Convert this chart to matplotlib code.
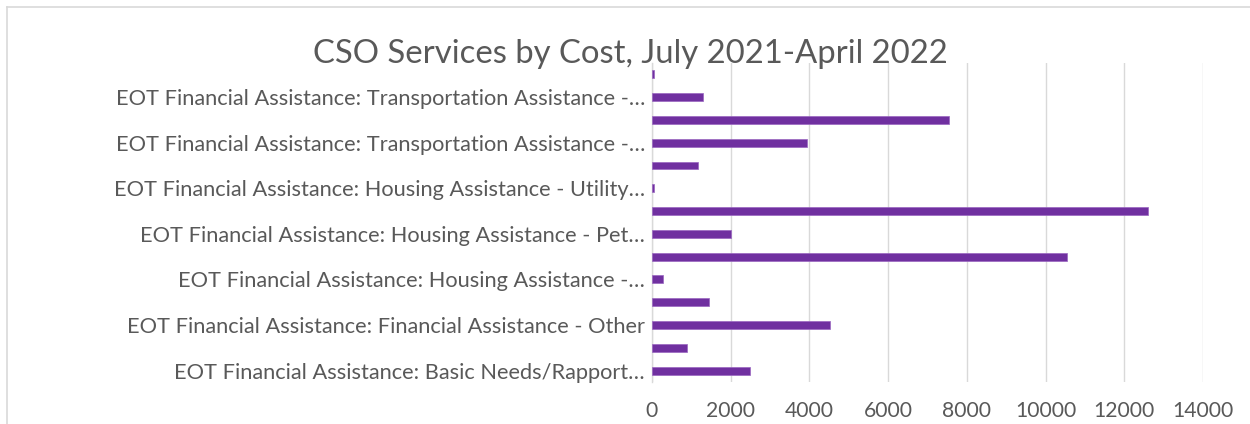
import matplotlib
matplotlib.use("Agg")
import matplotlib.pyplot as plt
from matplotlib.lines import Line2D

plt.rcParams['font.family'] = ['Lato', 'DejaVu Sans']

# data, bottom bar first (Excel only labels every other category)
categories = [
    "EOT Financial Assistance: Basic Needs/Rapport…",
    "",
    "EOT Financial Assistance: Financial Assistance - Other",
    "",
    "EOT Financial Assistance: Housing Assistance -…",
    "",
    "EOT Financial Assistance: Housing Assistance - Pet…",
    "",
    "EOT Financial Assistance: Housing Assistance - Utility…",
    "",
    "EOT Financial Assistance: Transportation Assistance -…",
    "",
    "EOT Financial Assistance: Transportation Assistance -…",
    "",
]
costs = [2480, 900, 4530, 1440, 290, 10550, 2000, 12600, 40, 1180, 3950, 7550, 1300, 40]
x_ticks = [0, 2000, 4000, 6000, 8000, 10000, 12000, 14000]

text_col = '#595959'
grid_col = '#D9D9D9'

fig = plt.figure(figsize=(12.5, 4.24), dpi=100)
ax = fig.add_axes([0.5216, 0.0991, 0.4408, 0.7524])

pos = list(range(len(categories)))
ax.barh(pos, costs, height=0.35, color='#7030A0', edgecolor='#9966C0', linewidth=0.5, zorder=3)

ax.set_xlim(0, 14000)
ax.set_ylim(-0.5, len(categories) - 0.5)
ax.set_xticks(x_ticks)
ax.set_xticklabels([str(t) for t in x_ticks])
ax.set_yticks(pos)
ax.set_yticklabels(categories)
ax.tick_params(axis='both', length=0, colors=text_col)
ax.tick_params(axis='y', pad=5, labelsize=15.7)
ax.tick_params(axis='x', pad=14, labelsize=15.2)

ax.grid(axis='x', color=grid_col, linewidth=1, zorder=0)
ax.set_axisbelow(True)
for s in ['top', 'right', 'bottom']:
    ax.spines[s].set_visible(False)
ax.spines['left'].set_color(grid_col)
ax.spines['left'].set_linewidth(1)

# title
fig.text(630 / 1250, 1 - 63.3 / 424, "CSO Services by Cost, July 2021-April 2022",
         ha='center', va='baseline', fontsize=23.7, color=text_col)

# chart area border (only top and left visible in the crop)
fig.add_artist(Line2D([7 / 1250, 1], [1 - 7 / 424, 1 - 7 / 424], transform=fig.transFigure,
                      color=grid_col, linewidth=1.2))
fig.add_artist(Line2D([7 / 1250, 7 / 1250], [0, 1 - 7 / 424], transform=fig.transFigure,
                      color=grid_col, linewidth=1.2))

fig.savefig("out.png", dpi=100)
